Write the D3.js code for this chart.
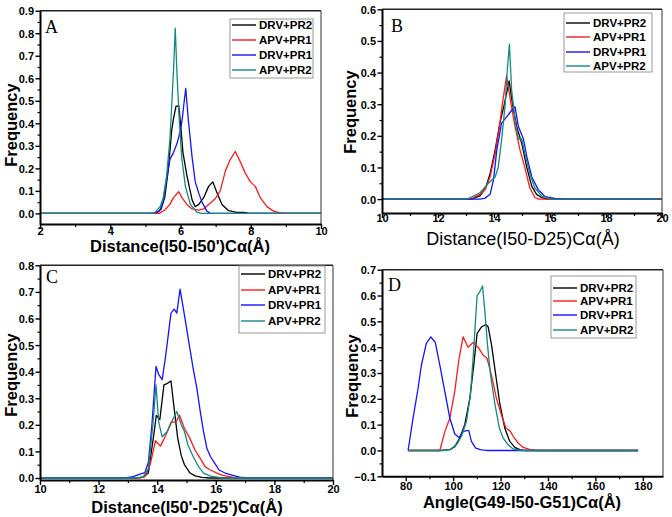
<!DOCTYPE html>
<html><head><meta charset="utf-8">
<script src="https://cdn.jsdelivr.net/npm/d3@7"></script>
<style>body{margin:0;background:#fff}svg{display:block}</style>
</head><body>
<script>
// ---------- DATA ----------
const seriesLabelsABC = ["DRV+PR2","APV+PR1","DRV+PR1","APV+PR2"];
const seriesLabelsD   = ["DRV+PR2","APV+PR1","DRV+PR1","APV+DR2"];
const panelLetters = ["A","B","C","D"];
const xTitles = ["Distance(I50-I50')Cα(Å)","Distance(I50-D25)Cα(Å)","Distance(I50'-D25')Cα(Å)","Angle(G49-I50-G51)Cα(Å)"];
const yTitle = "Frequency";
const xTicksA = [2,4,6,8,10],   yTicksA = [0,0.1,0.2,0.3,0.4,0.5,0.6,0.7,0.8,0.9];
const xTicksB = [10,12,14,16,18,20], yTicksB = [0,0.1,0.2,0.3,0.4,0.5,0.6];
const xTicksC = [10,12,14,16,18,20], yTicksC = [0,0.1,0.2,0.3,0.4,0.5,0.6,0.7,0.8];
const xTicksD = [80,100,120,140,160,180], yTicksD = [-0.1,0,0.1,0.2,0.3,0.4,0.5,0.6,0.7];

const A_DRV_PR2 = [[2,0],[5.3,0],[5.45,0.02],[5.55,0.07],[5.65,0.19],[5.75,0.37],[5.8,0.42],[5.87,0.475],[5.95,0.478],[6.0,0.40],[6.07,0.27],[6.18,0.17],[6.33,0.06],[6.42,0.03],[6.52,0.04],[6.66,0.07],[6.8,0.12],[6.92,0.14],[7.03,0.095],[7.18,0.04],[7.37,0.012],[7.6,0.005],[7.8,0.004],[7.95,0],[10,0]];
const A_APV_PR1 = [[2,0],[5.4,0],[5.55,0.015],[5.7,0.04],[5.8,0.07],[5.95,0.096],[6.04,0.07],[6.18,0.04],[6.33,0.02],[6.52,0.015],[6.66,0.02],[6.8,0.04],[6.99,0.065],[7.13,0.1],[7.28,0.19],[7.42,0.24],[7.56,0.275],[7.7,0.23],[7.84,0.18],[7.99,0.14],[8.13,0.12],[8.27,0.07],[8.46,0.03],[8.65,0.01],[8.84,0.002],[9.0,0],[10,0]];
const A_DRV_PR1 = [[2,0],[5.2,0],[5.4,0.01],[5.5,0.05],[5.6,0.15],[5.7,0.24],[5.8,0.27],[5.9,0.31],[6.0,0.37],[6.05,0.42],[6.1,0.49],[6.15,0.555],[6.22,0.42],[6.33,0.25],[6.42,0.14],[6.52,0.09],[6.61,0.05],[6.75,0.01],[6.85,0],[10,0]];
const A_APV_PR2 = [[2,0],[5.25,0],[5.42,0.03],[5.51,0.07],[5.6,0.16],[5.7,0.33],[5.8,0.63],[5.85,0.822],[5.9,0.62],[5.97,0.4],[6.04,0.24],[6.14,0.12],[6.28,0.04],[6.47,0.005],[6.6,0],[10,0]];

const B_DRV_PR2 = [[10,0],[13.2,0],[13.5,0.01],[13.7,0.035],[13.86,0.08],[14.04,0.155],[14.21,0.24],[14.37,0.30],[14.54,0.374],[14.66,0.30],[14.81,0.23],[14.99,0.176],[15.17,0.1],[15.35,0.04],[15.52,0.015],[15.7,0.005],[15.9,0],[20,0]];
const B_APV_PR1 = [[10,0],[13.2,0],[13.32,0.007],[13.5,0.015],[13.68,0.03],[13.86,0.07],[14.04,0.144],[14.21,0.24],[14.33,0.32],[14.45,0.39],[14.57,0.32],[14.75,0.23],[14.93,0.155],[15.1,0.1],[15.28,0.035],[15.46,0.005],[15.6,0],[20,0]];
const B_DRV_PR1 = [[10,0],[13.5,0],[13.68,0.003],[13.86,0.015],[13.98,0.06],[14.1,0.155],[14.27,0.24],[14.45,0.26],[14.63,0.28],[14.75,0.292],[14.87,0.23],[15.05,0.19],[15.17,0.135],[15.35,0.07],[15.58,0.03],[15.82,0.008],[16.18,0.002],[16.5,0],[20,0]];
const B_APV_PR2 = [[10,0],[13.0,0],[13.1,0.002],[13.5,0.02],[13.8,0.05],[14.04,0.07],[14.15,0.1],[14.27,0.186],[14.39,0.29],[14.47,0.4],[14.55,0.49],[14.63,0.345],[14.75,0.25],[14.87,0.19],[14.99,0.19],[15.1,0.145],[15.28,0.08],[15.46,0.035],[15.7,0.01],[16.05,0],[20,0]];

const C_DRV_PR2 = [[10,0],[13.3,0],[13.52,0.003],[13.7,0.02],[13.88,0.16],[13.97,0.235],[14.09,0.22],[14.23,0.35],[14.33,0.355],[14.47,0.365],[14.58,0.26],[14.7,0.15],[14.82,0.085],[14.93,0.05],[15.11,0.02],[15.29,0.008],[15.53,0.002],[15.8,0],[20,0]];
const C_APV_PR1 = [[10,0],[13.4,0],[13.58,0.005],[13.76,0.05],[13.94,0.14],[14.11,0.12],[14.29,0.16],[14.47,0.21],[14.64,0.21],[14.76,0.237],[14.93,0.186],[15.11,0.15],[15.29,0.105],[15.47,0.074],[15.64,0.042],[15.82,0.03],[16.0,0.02],[16.23,0.01],[16.47,0.005],[16.64,0.001],[16.8,0],[20,0]];
const C_DRV_PR1 = [[10,0],[12.9,0],[13.17,0.005],[13.41,0.015],[13.58,0.02],[13.7,0.06],[13.82,0.2],[13.96,0.42],[14.05,0.39],[14.17,0.37],[14.29,0.46],[14.47,0.62],[14.58,0.635],[14.67,0.62],[14.78,0.71],[14.93,0.613],[15.11,0.49],[15.23,0.41],[15.35,0.34],[15.47,0.25],[15.58,0.175],[15.7,0.11],[15.82,0.08],[15.94,0.06],[16.11,0.03],[16.35,0.017],[16.58,0.01],[16.82,0.003],[17.1,0],[20,0]];
const C_APV_PR2 = [[10,0],[13.3,0],[13.52,0.004],[13.7,0.035],[13.86,0.21],[13.96,0.35],[14.05,0.21],[14.17,0.155],[14.35,0.175],[14.53,0.22],[14.67,0.25],[14.82,0.2],[14.93,0.175],[15.05,0.124],[15.23,0.08],[15.41,0.043],[15.58,0.018],[15.82,0.007],[16.11,0.002],[16.3,0],[20,0]];

const D_DRV_PR2 = [[81,0],[95,0],[98.6,0.003],[100.7,0.015],[102.8,0.048],[104.9,0.1],[107,0.2],[108.7,0.33],[110.1,0.453],[111.9,0.478],[113.8,0.488],[114.8,0.478],[116.2,0.408],[118,0.29],[119.7,0.18],[121.8,0.086],[123.9,0.035],[126,0.012],[128.1,0.003],[130,0],[178,0]];
const D_APV_PR1 = [[81,0],[94.4,0],[96.5,0.073],[98.6,0.125],[100.7,0.23],[102.5,0.357],[104.2,0.44],[106.3,0.40],[108.4,0.418],[110.5,0.40],[112.6,0.37],[114.3,0.357],[116.2,0.29],[118.3,0.2],[120.4,0.137],[122.3,0.086],[124,0.076],[125.4,0.054],[127.5,0.028],[129.6,0.012],[132.5,0.003],[135.3,0],[178,0]];
const D_DRV_PR1 = [[81,0],[83.1,0.125],[85.2,0.24],[86.6,0.33],[88.7,0.415],[90.6,0.44],[92.5,0.418],[94.4,0.33],[96.5,0.228],[98.6,0.125],[100.7,0.064],[102.5,0.05],[104.2,0.073],[105.6,0.077],[106.6,0.077],[107.7,0.035],[109.5,0.009],[111.9,0.002],[114,0],[178,0]];
const D_APV_DR2 = [[81,0],[95.8,0],[98.6,0.003],[101.4,0.022],[103.5,0.054],[105.6,0.112],[107.3,0.215],[108.7,0.395],[110.1,0.6],[111.2,0.614],[112.4,0.637],[113.4,0.537],[114.5,0.408],[115.8,0.29],[117.6,0.18],[119.5,0.086],[121.1,0.048],[123.2,0.022],[125.3,0.006],[128.1,0],[178,0]];

// ---------- STYLE / LAYOUT ----------
const colors = ["#000000","#ff1a1a","#1414ff","#138a80"];
const FONT = "'Liberation Sans', Arial, sans-serif";
const W = 672, H = 517;
const svg = d3.select("body").append("svg").attr("width",W).attr("height",H);

const panels = [
  {series:[A_DRV_PR2,A_APV_PR1,A_DRV_PR1,A_APV_PR2], labels:seriesLabelsABC, xt:xTicksA, yt:yTicksA,
   L:40,R:321,T:10.7,B:224, xd:[2,10], yd:[-0.047,0.9],
   letter:[45,33], leg:{x:230,y:19,w:83,h:59,rows:[25,40,55,70]},
   ytX:17, ytY:125, xtX:180, xtY:252, xtBold:true, xtSize:16.5, tickY:235},
  {series:[B_DRV_PR2,B_APV_PR1,B_DRV_PR1,B_APV_PR2], labels:seriesLabelsABC, xt:xTicksB, yt:yTicksB,
   L:382,R:662,T:9.3,B:213, xd:[10,20], yd:[-0.044,0.6],
   letter:[391,32], leg:{x:564,y:13,w:88,h:59,rows:[23,37,52,66]},
   ytX:356, ytY:112, xtX:523, xtY:244.5, xtBold:false, xtSize:18, tickY:222},
  {series:[C_DRV_PR2,C_APV_PR1,C_DRV_PR1,C_APV_PR2], labels:seriesLabelsABC, xt:xTicksC, yt:yTicksC,
   L:40,R:333,T:265.3,B:480, xd:[10,20], yd:[-0.0075,0.8],
   letter:[46,283], leg:{x:239,y:266,w:86,h:67,rows:[274,290,305,321]},
   ytX:17, ytY:375, xtX:187, xtY:512.5, xtBold:true, xtSize:16.5, tickY:493},
  {series:[D_DRV_PR2,D_APV_PR1,D_DRV_PR1,D_APV_DR2], labels:seriesLabelsD, xt:xTicksD, yt:yTicksD,
   L:382,R:663,T:269.7,B:476.3, xd:[70,188.5], yd:[-0.1,0.7],
   letter:[388,291], leg:{x:551,y:276,w:85,h:62,rows:[288,301,315,330]},
   ytX:358, ytY:376, xtX:522, xtY:508, xtBold:true, xtSize:16.5, tickY:490.5}
];

panels.forEach((p,i)=>{
  const x = d3.scaleLinear().domain(p.xd).range([p.L,p.R]);
  const y = d3.scaleLinear().domain(p.yd).range([p.B,p.T]);
  const g = svg.append("g");

  const line = d3.line().x(d=>x(d[0])).y(d=>y(d[1]));
  p.series.forEach((s,k)=>{
    g.append("path").datum(s).attr("d",line).attr("fill","none")
     .attr("stroke",colors[k]).attr("stroke-width",1.3).attr("stroke-linejoin","round");
  });

  g.append("line").attr("x1",p.L).attr("x2",p.R).attr("y1",p.T).attr("y2",p.T).attr("stroke","#222").attr("stroke-width",1.5);
  g.append("line").attr("x1",p.R).attr("x2",p.R).attr("y1",p.T).attr("y2",p.B).attr("stroke","#333").attr("stroke-width",1);

  const xStep = p.xt[1]-p.xt[0];
  const xMinor = p.xt.slice(0,-1).map(v=>v+xStep/2);
  const yStep = +(p.yt[1]-p.yt[0]).toFixed(3);
  const yMinor = p.yt.slice(0,-1).map(v=>v+yStep/2);
  const xmAxis = d3.axisBottom(x).tickValues(xMinor).tickSize(3).tickFormat("").tickSizeOuter(0);
  g.append("g").attr("transform",`translate(0,${p.B})`).call(xmAxis).call(a=>a.select(".domain").remove())
   .selectAll("line").attr("stroke","#000").attr("stroke-width",1.2);
  const ymAxis = d3.axisLeft(y).tickValues(yMinor).tickSize(2.5).tickFormat("").tickSizeOuter(0);
  g.append("g").attr("transform",`translate(${p.L},0)`).call(ymAxis).call(a=>a.select(".domain").remove())
   .selectAll("line").attr("stroke","#000").attr("stroke-width",1.2);

  const xAxis = d3.axisBottom(x).tickValues(p.xt).tickSize(5).tickSizeOuter(0).tickFormat(d3.format("d"));
  const xg = g.append("g").attr("transform",`translate(0,${p.B})`).call(xAxis);
  xg.select(".domain").attr("stroke","#000").attr("stroke-width",2);
  xg.selectAll(".tick line").attr("stroke","#000").attr("stroke-width",1.4);
  xg.selectAll(".tick text").attr("font-family",FONT).attr("font-weight","bold").attr("font-size",11)
    .attr("fill","#000").attr("dy",null).attr("y",p.tickY-p.B);
  const yAxis = d3.axisLeft(y).tickValues(p.yt).tickSize(4.5).tickSizeOuter(0).tickFormat(d3.format(".1f"));
  const yg = g.append("g").attr("transform",`translate(${p.L},0)`).call(yAxis);
  yg.select(".domain").attr("stroke","#000").attr("stroke-width",2);
  yg.selectAll(".tick line").attr("stroke","#000").attr("stroke-width",1.4);
  yg.selectAll(".tick text").attr("font-family",FONT).attr("font-weight","bold").attr("font-size",11)
    .attr("fill","#000").attr("x",-6).attr("dy","0.36em");

  g.append("text").attr("transform",`translate(${p.ytX},${p.ytY}) rotate(-90)`).attr("text-anchor","middle")
   .attr("font-family",FONT).attr("font-weight","bold").attr("font-size",16.5).text(yTitle);
  g.append("text").attr("x",p.xtX).attr("y",p.xtY).attr("text-anchor","middle")
   .attr("font-family",FONT).attr("font-weight",p.xtBold?"bold":"normal").attr("font-size",p.xtSize).text(xTitles[i]);

  g.append("text").attr("x",p.letter[0]).attr("y",p.letter[1]).attr("font-family","'Liberation Serif','Times New Roman',serif")
   .attr("font-size",18).text(panelLetters[i]);

  const lg = p.leg;
  g.append("rect").attr("x",lg.x).attr("y",lg.y).attr("width",lg.w).attr("height",lg.h)
   .attr("fill","#fff").attr("stroke","#999").attr("stroke-width",1);
  p.labels.forEach((lab,k)=>{
    const ry = lg.rows[k];
    g.append("line").attr("x1",lg.x+2).attr("x2",lg.x+26).attr("y1",ry).attr("y2",ry)
     .attr("stroke",colors[k]).attr("stroke-width",1.4);
    g.append("text").attr("x",lg.x+29).attr("y",ry).attr("dy","0.36em")
     .attr("font-family",FONT).attr("font-weight","bold").attr("font-size",11.5).text(lab);
  });
});
</script>
</body></html>
